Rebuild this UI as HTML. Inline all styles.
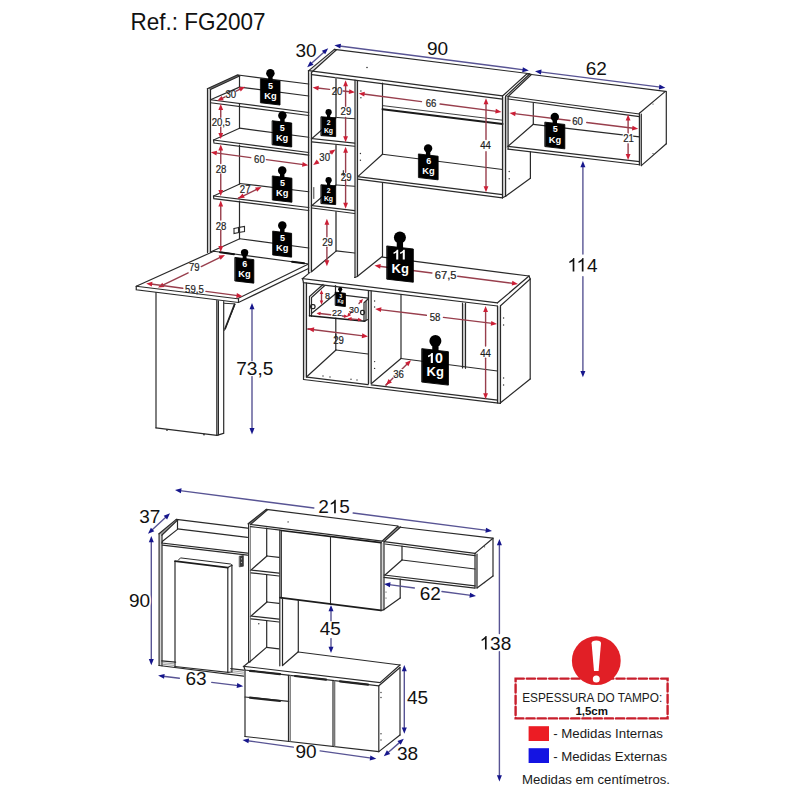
<!DOCTYPE html>
<html><head><meta charset="utf-8"><style>
html,body{margin:0;padding:0;background:#fff;}
svg{display:block;font-family:"Liberation Sans",sans-serif;}
</style></head><body>
<svg width="800" height="800" viewBox="0 0 800 800" stroke-linecap="round" stroke-linejoin="miter">
<rect width="800" height="800" fill="#fff"/>
<text x="130.5" y="30.3" font-size="23.6" fill="#111" textLength="135" lengthAdjust="spacingAndGlyphs">Ref.: FG2007</text>
<rect x="208.00" y="89.50" width="2.00" height="162.50" fill="#d6d6d6"/>
<rect x="309.00" y="72.50" width="2.00" height="199.00" fill="#d6d6d6"/>
<rect x="355.50" y="81.00" width="1.50" height="195.50" fill="#d6d6d6"/>
<rect x="503.00" y="97.00" width="2.10" height="100.00" fill="#d6d6d6"/>
<rect x="506.10" y="97.50" width="1.50" height="50.50" fill="#d6d6d6"/>
<rect x="639.90" y="114.50" width="0.90" height="50.50" fill="#d6d6d6"/>
<rect x="304.00" y="283.50" width="2.00" height="94.00" fill="#d6d6d6"/>
<rect x="368.90" y="291.00" width="1.80" height="92.50" fill="#d6d6d6"/>
<rect x="498.00" y="306.50" width="2.00" height="96.00" fill="#d6d6d6"/>
<rect x="463.00" y="304.00" width="2.00" height="64.00" fill="#d6d6d6"/>
<rect x="159.60" y="535.00" width="1.90" height="130.00" fill="#d6d6d6"/>
<rect x="381.50" y="543.00" width="2.00" height="66.50" fill="#d6d6d6"/>
<rect x="475.50" y="554.50" width="1.00" height="33.00" fill="#d6d6d6"/>
<rect x="217.30" y="301.00" width="0.60" height="134.00" fill="#d6d6d6"/>
<path d="M207.50 88.50 L207.50 252.50" stroke="#2a2a2a" stroke-width="1.20" fill="none"/>
<path d="M210.50 89.50 L210.50 252.00" stroke="#2a2a2a" stroke-width="1.20" fill="none"/>
<path d="M207.80 88.50 L237.50 75.00 L239.50 76.00 L210.50 89.50 Z" fill="#707070"/>
<path d="M207.80 88.50 L237.50 75.00 L239.50 76.00 L210.50 89.50" stroke="#2a2a2a" stroke-width="1.20" fill="none"/>
<path d="M238.00 75.00 L308.75 84.00" stroke="#2a2a2a" stroke-width="1.20" fill="none"/>
<path d="M239.50 76.00 L239.50 87.50" stroke="#2a2a2a" stroke-width="1.20" fill="none"/>
<path d="M239.50 103.50 L239.50 128.50" stroke="#2a2a2a" stroke-width="1.20" fill="none"/>
<path d="M239.50 145.00 L239.50 184.00" stroke="#2a2a2a" stroke-width="1.20" fill="none"/>
<path d="M239.50 201.00 L239.50 238.75" stroke="#2a2a2a" stroke-width="1.20" fill="none"/>
<path d="M210.50 99.75 L308.75 112.50" stroke="#2a2a2a" stroke-width="1.20" fill="none"/>
<path d="M210.50 102.75 L308.75 115.50" stroke="#2a2a2a" stroke-width="1.20" fill="none"/>
<path d="M210.50 99.75 L239.50 87.10" stroke="#2a2a2a" stroke-width="1.20" fill="none"/>
<path d="M239.50 87.10 L308.75 96.00" stroke="#2a2a2a" stroke-width="1.20" fill="none"/>
<path d="M239.50 128.20 L213.50 140.00 L214.00 143.00 L308.75 155.20" stroke="#2a2a2a" stroke-width="1.20" fill="none"/>
<path d="M213.50 140.00 L308.75 152.50" stroke="#2a2a2a" stroke-width="1.20" fill="none"/>
<path d="M239.50 128.20 L308.75 137.25" stroke="#2a2a2a" stroke-width="1.20" fill="none"/>
<path d="M239.75 184.00 L213.50 196.00 L213.80 198.60 L308.75 210.50" stroke="#2a2a2a" stroke-width="1.20" fill="none"/>
<path d="M213.50 196.00 L308.75 207.50" stroke="#2a2a2a" stroke-width="1.20" fill="none"/>
<path d="M239.75 183.50 L308.75 191.75" stroke="#2a2a2a" stroke-width="1.20" fill="none"/>
<path d="M210.50 252.00 L239.75 238.75" stroke="#2a2a2a" stroke-width="1.20" fill="none"/>
<path d="M239.75 238.75 L308.75 248.00" stroke="#2a2a2a" stroke-width="1.20" fill="none"/>
<path d="M234.00 228.50 L234.00 233.50 L238.50 232.50 L238.50 227.50 L244.50 226.50 L244.50 231.50 L238.50 232.50" stroke="#2a2a2a" stroke-width="1.10" fill="none"/>
<path d="M234.00 228.50 L240.00 227.20" stroke="#2a2a2a" stroke-width="1.10" fill="none"/>
<path d="M136.25 286.25 L213.75 251.25 L307.50 263.75" stroke="#2a2a2a" stroke-width="1.20" fill="none"/>
<path d="M136.25 286.25 L237.50 298.75 L307.50 264.50" stroke="#2a2a2a" stroke-width="1.20" fill="none"/>
<path d="M136.25 286.25 L136.25 289.80 L238.50 302.50 L308.50 268.50" stroke="#2a2a2a" stroke-width="1.20" fill="none"/>
<path d="M238.50 298.90 L238.50 302.50" stroke="#2a2a2a" stroke-width="1.20" fill="none"/>
<path d="M220.00 252.20 L234.00 254.20" stroke="#111" stroke-width="2.00" fill="none"/>
<path d="M292.00 261.70 L304.00 263.30" stroke="#111" stroke-width="2.00" fill="none"/>
<path d="M156.00 292.50 L156.00 427.80" stroke="#2a2a2a" stroke-width="1.20" fill="none"/>
<path d="M155.90 427.80 L216.90 435.30" stroke="#2a2a2a" stroke-width="1.20" fill="none"/>
<path d="M216.80 300.50 L216.80 435.30" stroke="#2a2a2a" stroke-width="1.20" fill="none"/>
<path d="M218.40 300.80 L218.40 435.00" stroke="#2a2a2a" stroke-width="1.20" fill="none"/>
<path d="M223.70 301.60 L223.70 433.40" stroke="#2a2a2a" stroke-width="1.20" fill="none"/>
<path d="M216.90 435.30 L223.40 433.40" stroke="#2a2a2a" stroke-width="1.20" fill="none"/>
<path d="M224.50 303.30 L235.20 303.90 L224.50 330.30" stroke="#2a2a2a" stroke-width="1.00" fill="none"/>
<path d="M234.50 304.50 L225.20 328.50" stroke="#222" stroke-width="1.80" fill="none"/>
<circle cx="167.00" cy="430.00" r="0.90" fill="#333"/>
<circle cx="204.00" cy="434.50" r="0.90" fill="#333"/>
<path d="M308.50 70.60 L308.50 272.50" stroke="#2a2a2a" stroke-width="1.20" fill="none"/>
<path d="M311.50 72.00 L311.50 271.50" stroke="#2a2a2a" stroke-width="1.20" fill="none"/>
<path d="M308.75 70.60 L334.40 49.40 L336.25 50.00 L311.90 72.00 Z" fill="#e4e4e4"/>
<path d="M308.75 70.60 L334.40 49.40 L336.25 50.00 L311.90 72.00" stroke="#2a2a2a" stroke-width="1.20" fill="none"/>
<path d="M334.40 49.40 L530.00 73.75" stroke="#2a2a2a" stroke-width="1.20" fill="none"/>
<path d="M308.75 70.60 L502.50 95.80" stroke="#2a2a2a" stroke-width="1.20" fill="none"/>
<path d="M311.90 74.60 L502.50 99.20" stroke="#2a2a2a" stroke-width="1.20" fill="none"/>
<path d="M336.00 77.80 L336.00 117.50" stroke="#707070" stroke-width="1.90" fill="none"/>
<path d="M336.00 145.50 L336.00 185.00" stroke="#707070" stroke-width="1.90" fill="none"/>
<path d="M336.00 212.00 L336.00 251.00" stroke="#707070" stroke-width="1.90" fill="none"/>
<path d="M355.00 80.20 L355.00 277.50" stroke="#2a2a2a" stroke-width="1.20" fill="none"/>
<path d="M357.50 80.60 L357.50 276.50" stroke="#2a2a2a" stroke-width="1.20" fill="none"/>
<path d="M354.60 277.50 L357.50 276.50" stroke="#2a2a2a" stroke-width="1.20" fill="none"/>
<path d="M336.00 117.50 L311.90 138.60 L354.60 143.10" stroke="#2a2a2a" stroke-width="1.20" fill="none"/>
<path d="M311.90 141.90 L354.60 146.25" stroke="#2a2a2a" stroke-width="1.20" fill="none"/>
<path d="M337.10 117.50 L354.60 118.75" stroke="#2a2a2a" stroke-width="1.20" fill="none"/>
<path d="M336.00 185.00 L311.90 205.60 L354.60 210.60" stroke="#2a2a2a" stroke-width="1.20" fill="none"/>
<path d="M311.90 208.00 L354.60 213.50" stroke="#2a2a2a" stroke-width="1.20" fill="none"/>
<path d="M337.00 185.00 L354.60 186.25" stroke="#2a2a2a" stroke-width="1.20" fill="none"/>
<path d="M311.50 271.80 L335.80 251.40" stroke="#2a2a2a" stroke-width="1.20" fill="none"/>
<path d="M336.25 250.80 L354.60 253.00" stroke="#2a2a2a" stroke-width="1.20" fill="none"/>
<path d="M313.80 187.50 L313.80 198.50" stroke="#2a2a2a" stroke-width="0.90" fill="none"/>
<circle cx="367.00" cy="67.50" r="0.80" fill="#333"/>
<circle cx="360.90" cy="91.00" r="0.70" fill="#333"/>
<circle cx="360.90" cy="97.80" r="0.70" fill="#333"/>
<circle cx="360.40" cy="153.50" r="0.70" fill="#333"/>
<circle cx="360.40" cy="160.30" r="0.70" fill="#333"/>
<path d="M382.50 83.20 L382.50 154.25" stroke="#2a2a2a" stroke-width="1.20" fill="none"/>
<path d="M382.50 182.75 L382.50 256.25" stroke="#2a2a2a" stroke-width="1.20" fill="none"/>
<path d="M382.50 256.25 L357.50 276.25" stroke="#2a2a2a" stroke-width="1.20" fill="none"/>
<path d="M382.50 105.60 L502.50 120.20" stroke="#2a2a2a" stroke-width="0.90" fill="none"/>
<path d="M382.50 109.20 L502.50 124.00" stroke="#1a1a1a" stroke-width="2.00" fill="none"/>
<path d="M358.10 176.40 L382.50 154.25" stroke="#2a2a2a" stroke-width="1.20" fill="none"/>
<path d="M382.50 154.25 L502.50 169.50" stroke="#2a2a2a" stroke-width="1.20" fill="none"/>
<path d="M357.50 176.60 L502.50 194.60" stroke="#2a2a2a" stroke-width="1.20" fill="none"/>
<path d="M357.50 179.20 L502.50 197.80" stroke="#2a2a2a" stroke-width="1.20" fill="none"/>
<path d="M502.50 96.00 L502.50 197.80" stroke="#2a2a2a" stroke-width="1.20" fill="none"/>
<path d="M505.60 96.30 L505.60 196.30" stroke="#2a2a2a" stroke-width="1.20" fill="none"/>
<path d="M502.50 197.80 L505.60 196.30" stroke="#2a2a2a" stroke-width="1.20" fill="none"/>
<path d="M502.50 96.00 L527.00 73.80" stroke="#2a2a2a" stroke-width="1.20" fill="none"/>
<path d="M505.60 96.30 L529.40 74.20" stroke="#2a2a2a" stroke-width="1.20" fill="none"/>
<path d="M508.10 96.50 L531.40 74.50" stroke="#2a2a2a" stroke-width="1.20" fill="none"/>
<path d="M527.00 73.80 L531.40 74.50" stroke="#2a2a2a" stroke-width="1.20" fill="none"/>
<path d="M530.40 151.80 L530.40 178.25" stroke="#2a2a2a" stroke-width="1.20" fill="none"/>
<path d="M530.40 178.25 L505.60 196.30" stroke="#2a2a2a" stroke-width="1.20" fill="none"/>
<circle cx="509.20" cy="171.50" r="0.70" fill="#333"/>
<circle cx="509.20" cy="178.70" r="0.70" fill="#333"/>
<path d="M531.40 74.50 L665.40 91.40" stroke="#2a2a2a" stroke-width="1.20" fill="none"/>
<path d="M508.10 96.50 L639.50 114.00" stroke="#2a2a2a" stroke-width="1.20" fill="none"/>
<path d="M508.10 99.00 L639.50 116.60" stroke="#2a2a2a" stroke-width="1.20" fill="none"/>
<path d="M639.40 113.20 L665.40 91.40" stroke="#2a2a2a" stroke-width="1.20" fill="none"/>
<path d="M639.40 113.20 L639.40 165.00" stroke="#2a2a2a" stroke-width="1.20" fill="none"/>
<path d="M641.30 114.00 L641.30 165.60" stroke="#2a2a2a" stroke-width="1.20" fill="none"/>
<path d="M666.30 91.40 L666.30 143.80" stroke="#2a2a2a" stroke-width="1.20" fill="none"/>
<path d="M641.30 165.60 L666.30 143.80" stroke="#2a2a2a" stroke-width="1.20" fill="none"/>
<path d="M508.10 96.50 L508.10 149.00" stroke="#2a2a2a" stroke-width="1.20" fill="none"/>
<path d="M533.30 103.00 L533.30 124.30" stroke="#2a2a2a" stroke-width="1.20" fill="none"/>
<path d="M508.00 146.30 L533.30 124.30" stroke="#2a2a2a" stroke-width="1.20" fill="none"/>
<path d="M533.30 124.30 L639.50 136.80" stroke="#2a2a2a" stroke-width="1.20" fill="none"/>
<path d="M508.00 146.30 L639.50 161.60" stroke="#2a2a2a" stroke-width="1.20" fill="none"/>
<path d="M508.00 149.20 L639.50 164.75" stroke="#2a2a2a" stroke-width="1.20" fill="none"/>
<circle cx="653.00" cy="104.00" r="0.60" fill="#333"/>
<circle cx="653.00" cy="153.50" r="0.60" fill="#333"/>
<path d="M310.00 272.40 L302.50 278.50 L497.50 302.80" stroke="#2a2a2a" stroke-width="1.20" fill="none"/>
<path d="M302.50 278.50 L303.50 282.60 L497.50 306.00" stroke="#2a2a2a" stroke-width="1.20" fill="none"/>
<path d="M382.50 257.20 L529.00 276.00" stroke="#2a2a2a" stroke-width="1.20" fill="none"/>
<path d="M529.00 276.00 L497.50 302.80" stroke="#2a2a2a" stroke-width="1.20" fill="none"/>
<path d="M530.20 279.00 L500.50 305.80" stroke="#2a2a2a" stroke-width="1.20" fill="none"/>
<path d="M529.00 276.00 L530.20 279.00" stroke="#2a2a2a" stroke-width="1.20" fill="none"/>
<path d="M303.50 282.60 L303.50 379.50" stroke="#2a2a2a" stroke-width="1.20" fill="none"/>
<path d="M306.50 283.00 L306.50 377.20" stroke="#2a2a2a" stroke-width="1.20" fill="none"/>
<path d="M368.40 290.50 L368.40 384.00" stroke="#2a2a2a" stroke-width="1.20" fill="none"/>
<path d="M371.20 291.00 L371.20 383.50" stroke="#2a2a2a" stroke-width="1.20" fill="none"/>
<path d="M497.50 306.20 L497.50 403.00" stroke="#2a2a2a" stroke-width="1.20" fill="none"/>
<path d="M500.50 305.80 L500.50 402.80" stroke="#2a2a2a" stroke-width="1.20" fill="none"/>
<path d="M530.20 279.00 L530.20 379.00" stroke="#2a2a2a" stroke-width="1.20" fill="none"/>
<path d="M530.20 379.00 L500.50 402.80" stroke="#2a2a2a" stroke-width="1.20" fill="none"/>
<path d="M307.00 377.20 L368.00 384.60" stroke="#2a2a2a" stroke-width="1.20" fill="none"/>
<path d="M371.20 384.80 L497.50 400.20" stroke="#2a2a2a" stroke-width="1.20" fill="none"/>
<path d="M303.50 379.50 L500.50 403.40" stroke="#2a2a2a" stroke-width="1.20" fill="none"/>
<path d="M335.80 318.00 L335.80 350.00" stroke="#2a2a2a" stroke-width="1.20" fill="none"/>
<path d="M335.50 285.50 L335.50 294.00" stroke="#2a2a2a" stroke-width="1.20" fill="none"/>
<path d="M307.00 376.50 L336.00 350.00" stroke="#2a2a2a" stroke-width="1.20" fill="none"/>
<path d="M336.00 350.00 L368.00 354.00" stroke="#2a2a2a" stroke-width="1.20" fill="none"/>
<path d="M401.00 294.80 L401.00 358.50" stroke="#2a2a2a" stroke-width="1.20" fill="none"/>
<path d="M371.50 383.50 L401.00 358.50" stroke="#2a2a2a" stroke-width="1.20" fill="none"/>
<path d="M401.00 358.50 L497.50 371.00" stroke="#2a2a2a" stroke-width="1.20" fill="none"/>
<path d="M462.50 303.00 L462.50 368.00" stroke="#2a2a2a" stroke-width="1.20" fill="none"/>
<path d="M465.50 303.40 L465.50 368.30" stroke="#2a2a2a" stroke-width="1.20" fill="none"/>
<path d="M309.50 315.80 L309.50 296.50 L323.00 284.50" stroke="#2a2a2a" stroke-width="1.20" fill="none"/>
<path d="M311.50 316.30 L311.50 297.50 L324.50 285.80" stroke="#2a2a2a" stroke-width="1.20" fill="none"/>
<path d="M311.50 313.50 L335.00 294.20" stroke="#2a2a2a" stroke-width="1.20" fill="none"/>
<path d="M345.50 295.30 L368.00 298.20" stroke="#2a2a2a" stroke-width="1.20" fill="none"/>
<path d="M309.50 315.80 L365.00 321.30" stroke="#1a1a1a" stroke-width="1.50" fill="none"/>
<path d="M364.00 321.00 L364.00 302.80 L368.00 299.00" stroke="#2a2a2a" stroke-width="1.20" fill="none"/>
<path d="M366.00 301.50 L366.00 320.50" stroke="#2a2a2a" stroke-width="1.20" fill="none"/>
<path d="M364.00 321.00 L368.00 319.50" stroke="#2a2a2a" stroke-width="1.20" fill="none"/>
<rect x="310.6" y="304.6" width="4.4" height="4.0" rx="1.6" fill="none" stroke="#222" stroke-width="1.3"/>
<rect x="360.6" y="310.4" width="3.8" height="4.2" rx="1.5" fill="none" stroke="#222" stroke-width="1.3"/>
<circle cx="323.00" cy="376.00" r="0.70" fill="#333"/>
<circle cx="330.00" cy="377.00" r="0.70" fill="#333"/>
<circle cx="351.00" cy="379.20" r="0.70" fill="#333"/>
<circle cx="357.00" cy="380.00" r="0.70" fill="#333"/>
<circle cx="374.60" cy="361.60" r="0.70" fill="#333"/>
<circle cx="374.60" cy="368.40" r="0.70" fill="#333"/>
<circle cx="503.60" cy="318.00" r="0.70" fill="#333"/>
<circle cx="503.60" cy="325.00" r="0.70" fill="#333"/>
<circle cx="503.60" cy="378.00" r="0.70" fill="#333"/>
<circle cx="503.60" cy="385.00" r="0.70" fill="#333"/>
<circle cx="374.60" cy="301.00" r="0.70" fill="#333"/>
<circle cx="374.60" cy="307.00" r="0.70" fill="#333"/>
<path d="M221.58 98.62 L225.06 96.85" stroke="#983e4c" stroke-width="1.40" fill="none"/>
<path d="M236.14 91.21 L240.72 88.88" stroke="#983e4c" stroke-width="1.40" fill="none"/>
<path d="M217.30 100.80 L221.56 95.94 L223.74 100.22 Z" fill="#cc1f36"/>
<path d="M245.00 86.70 L240.74 91.56 L238.56 87.28 Z" fill="#cc1f36"/>
<text x="230.80" y="97.60" font-size="10.56" fill="#1e1e1e" text-anchor="middle" font-weight="normal" textLength="10.68" lengthAdjust="spacingAndGlyphs" stroke="#1e1e1e" stroke-width="0.2">30</text>
<path d="M220.75 108.80 L220.75 117.30" stroke="#983e4c" stroke-width="1.40" fill="none"/>
<path d="M220.75 127.10 L220.75 134.20" stroke="#983e4c" stroke-width="1.40" fill="none"/>
<path d="M220.75 104.00 L223.15 110.00 L218.35 110.00 Z" fill="#cc1f36"/>
<path d="M220.75 139.00 L218.35 133.00 L223.15 133.00 Z" fill="#cc1f36"/>
<text x="221.00" y="126.20" font-size="10.56" fill="#1e1e1e" text-anchor="middle" font-weight="normal" textLength="18.68" lengthAdjust="spacingAndGlyphs" stroke="#1e1e1e" stroke-width="0.2">20,5</text>
<path d="M220.75 149.30 L220.75 163.56" stroke="#983e4c" stroke-width="1.40" fill="none"/>
<path d="M220.75 173.85 L220.75 191.20" stroke="#983e4c" stroke-width="1.40" fill="none"/>
<path d="M220.75 144.50 L223.15 150.50 L218.35 150.50 Z" fill="#cc1f36"/>
<path d="M220.75 196.00 L218.35 190.00 L223.15 190.00 Z" fill="#cc1f36"/>
<text x="221.00" y="172.50" font-size="10.56" fill="#1e1e1e" text-anchor="middle" font-weight="normal" textLength="10.68" lengthAdjust="spacingAndGlyphs" stroke="#1e1e1e" stroke-width="0.2">28</text>
<path d="M220.75 205.30 L220.75 220.07" stroke="#983e4c" stroke-width="1.40" fill="none"/>
<path d="M220.75 230.37 L220.75 247.20" stroke="#983e4c" stroke-width="1.40" fill="none"/>
<path d="M220.75 200.50 L223.15 206.50 L218.35 206.50 Z" fill="#cc1f36"/>
<path d="M220.75 252.00 L218.35 246.00 L223.15 246.00 Z" fill="#cc1f36"/>
<text x="221.00" y="229.50" font-size="10.56" fill="#1e1e1e" text-anchor="middle" font-weight="normal" textLength="10.68" lengthAdjust="spacingAndGlyphs" stroke="#1e1e1e" stroke-width="0.2">28</text>
<path d="M215.56 152.93 L250.78 157.59" stroke="#983e4c" stroke-width="1.40" fill="none"/>
<path d="M266.38 159.65 L303.54 164.57" stroke="#983e4c" stroke-width="1.40" fill="none"/>
<path d="M210.80 152.30 L217.06 150.71 L216.43 155.47 Z" fill="#cc1f36"/>
<path d="M308.30 165.20 L302.04 166.79 L302.67 162.03 Z" fill="#cc1f36"/>
<text x="259.40" y="162.80" font-size="10.56" fill="#1e1e1e" text-anchor="middle" font-weight="normal" textLength="10.68" lengthAdjust="spacingAndGlyphs" stroke="#1e1e1e" stroke-width="0.2">60</text>
<path d="M242.62 196.20 L238.30 198.30" stroke="#983e4c" stroke-width="1.40" fill="none"/>
<path d="M238.30 198.30 L257.18 189.10" stroke="#983e4c" stroke-width="1.40" fill="none"/>
<path d="M238.30 198.30 L242.64 193.51 L244.75 197.83 Z" fill="#cc1f36"/>
<path d="M261.50 187.00 L257.16 191.79 L255.05 187.47 Z" fill="#cc1f36"/>
<text x="245.20" y="193.00" font-size="10.56" fill="#1e1e1e" text-anchor="middle" font-weight="normal" textLength="10.68" lengthAdjust="spacingAndGlyphs" stroke="#1e1e1e" stroke-width="0.2">27</text>
<path d="M317.37 88.04 L329.56 89.42" stroke="#983e4c" stroke-width="1.40" fill="none"/>
<path d="M343.13 90.96 L350.23 91.76" stroke="#983e4c" stroke-width="1.40" fill="none"/>
<path d="M312.60 87.50 L318.83 85.79 L318.29 90.56 Z" fill="#cc1f36"/>
<path d="M355.00 92.30 L348.77 94.01 L349.31 89.24 Z" fill="#cc1f36"/>
<text x="337.00" y="94.80" font-size="10.56" fill="#1e1e1e" text-anchor="middle" font-weight="normal" textLength="10.68" lengthAdjust="spacingAndGlyphs" stroke="#1e1e1e" stroke-width="0.2">20</text>
<path d="M345.60 85.00 L345.60 106.28" stroke="#983e4c" stroke-width="1.40" fill="none"/>
<path d="M345.60 117.46 L345.60 137.50" stroke="#983e4c" stroke-width="1.40" fill="none"/>
<path d="M345.60 80.20 L348.00 86.20 L343.20 86.20 Z" fill="#cc1f36"/>
<path d="M345.60 142.30 L343.20 136.30 L348.00 136.30 Z" fill="#cc1f36"/>
<text x="345.90" y="114.60" font-size="10.56" fill="#1e1e1e" text-anchor="middle" font-weight="normal" textLength="10.68" lengthAdjust="spacingAndGlyphs" stroke="#1e1e1e" stroke-width="0.2">29</text>
<path d="M345.60 151.60 L345.60 172.22" stroke="#983e4c" stroke-width="1.40" fill="none"/>
<path d="M345.60 179.66 L345.60 204.00" stroke="#983e4c" stroke-width="1.40" fill="none"/>
<path d="M345.60 146.80 L348.00 152.80 L343.20 152.80 Z" fill="#cc1f36"/>
<path d="M345.60 208.80 L343.20 202.80 L348.00 202.80 Z" fill="#cc1f36"/>
<text x="346.20" y="181.30" font-size="10.56" fill="#1e1e1e" text-anchor="middle" font-weight="normal" textLength="10.68" lengthAdjust="spacingAndGlyphs" stroke="#1e1e1e" stroke-width="0.2">29</text>
<path d="M343.30 170.60 L343.30 175.40" stroke="#222" stroke-width="1.00" fill="none"/>
<path d="M341.80 174.20 L344.60 174.20" stroke="#222" stroke-width="0.80" fill="none"/>
<path d="M317.13 162.25 L317.66 161.88" stroke="#983e4c" stroke-width="1.40" fill="none"/>
<path d="M329.93 153.30 L331.57 152.15" stroke="#983e4c" stroke-width="1.40" fill="none"/>
<path d="M313.20 165.00 L316.74 159.59 L319.49 163.53 Z" fill="#cc1f36"/>
<path d="M335.50 149.40 L331.96 154.81 L329.21 150.87 Z" fill="#cc1f36"/>
<text x="324.70" y="161.30" font-size="10.56" fill="#1e1e1e" text-anchor="middle" font-weight="normal" textLength="10.68" lengthAdjust="spacingAndGlyphs" stroke="#1e1e1e" stroke-width="0.2">30</text>
<path d="M326.90 223.60 L326.90 236.85" stroke="#983e4c" stroke-width="1.40" fill="none"/>
<path d="M326.90 247.30 L326.90 261.50" stroke="#983e4c" stroke-width="1.40" fill="none"/>
<path d="M326.90 218.80 L329.30 224.80 L324.50 224.80 Z" fill="#cc1f36"/>
<path d="M326.90 266.30 L324.50 260.30 L329.30 260.30 Z" fill="#cc1f36"/>
<text x="327.50" y="246.30" font-size="10.56" fill="#1e1e1e" text-anchor="middle" font-weight="normal" textLength="10.68" lengthAdjust="spacingAndGlyphs" stroke="#1e1e1e" stroke-width="0.2">29</text>
<path d="M363.36 94.02 L421.48 101.58" stroke="#983e4c" stroke-width="1.40" fill="none"/>
<path d="M440.05 104.00 L496.74 111.38" stroke="#983e4c" stroke-width="1.40" fill="none"/>
<path d="M358.60 93.40 L364.86 91.79 L364.24 96.55 Z" fill="#cc1f36"/>
<path d="M501.50 112.00 L495.24 113.61 L495.86 108.85 Z" fill="#cc1f36"/>
<text x="431.00" y="107.00" font-size="10.56" fill="#1e1e1e" text-anchor="middle" font-weight="normal" textLength="10.68" lengthAdjust="spacingAndGlyphs" stroke="#1e1e1e" stroke-width="0.2">66</text>
<path d="M486.00 103.00 L486.00 139.56" stroke="#983e4c" stroke-width="1.40" fill="none"/>
<path d="M486.00 151.78 L486.00 187.40" stroke="#983e4c" stroke-width="1.40" fill="none"/>
<path d="M486.00 98.20 L488.40 104.20 L483.60 104.20 Z" fill="#cc1f36"/>
<path d="M486.00 192.20 L483.60 186.20 L488.40 186.20 Z" fill="#cc1f36"/>
<text x="485.60" y="149.00" font-size="10.56" fill="#1e1e1e" text-anchor="middle" font-weight="normal" textLength="10.68" lengthAdjust="spacingAndGlyphs" stroke="#1e1e1e" stroke-width="0.2">44</text>
<path d="M514.26 113.68 L569.99 120.48" stroke="#983e4c" stroke-width="1.40" fill="none"/>
<path d="M586.72 122.52 L633.44 128.22" stroke="#983e4c" stroke-width="1.40" fill="none"/>
<path d="M509.50 113.10 L515.75 111.44 L515.17 116.21 Z" fill="#cc1f36"/>
<path d="M638.20 128.80 L631.95 130.46 L632.53 125.69 Z" fill="#cc1f36"/>
<text x="577.50" y="125.40" font-size="10.56" fill="#1e1e1e" text-anchor="middle" font-weight="normal" textLength="10.68" lengthAdjust="spacingAndGlyphs" stroke="#1e1e1e" stroke-width="0.2">60</text>
<path d="M628.10 119.20 L628.10 133.10" stroke="#983e4c" stroke-width="1.40" fill="none"/>
<path d="M628.10 142.22 L628.10 155.20" stroke="#983e4c" stroke-width="1.40" fill="none"/>
<path d="M628.10 114.40 L630.50 120.40 L625.70 120.40 Z" fill="#cc1f36"/>
<path d="M628.10 160.00 L625.70 154.00 L630.50 154.00 Z" fill="#cc1f36"/>
<text x="628.50" y="142.30" font-size="10.56" fill="#fff" stroke="#fff" stroke-width="2.5" stroke-linejoin="round" text-anchor="middle" font-weight="normal" textLength="10.68" lengthAdjust="spacingAndGlyphs">21</text>
<text x="628.50" y="142.30" font-size="10.56" fill="#1e1e1e" text-anchor="middle" font-weight="normal" textLength="10.68" lengthAdjust="spacingAndGlyphs" stroke="#1e1e1e" stroke-width="0.2">21</text>
<path d="M162.32 285.41 L188.15 272.88" stroke="#983e4c" stroke-width="1.40" fill="none"/>
<path d="M201.22 266.54 L220.68 257.09" stroke="#983e4c" stroke-width="1.40" fill="none"/>
<path d="M158.00 287.50 L162.35 282.72 L164.45 287.04 Z" fill="#cc1f36"/>
<path d="M225.00 255.00 L220.65 259.78 L218.55 255.46 Z" fill="#cc1f36"/>
<text x="194.30" y="271.30" font-size="10.56" fill="#1e1e1e" text-anchor="middle" font-weight="normal" textLength="10.68" lengthAdjust="spacingAndGlyphs" stroke="#1e1e1e" stroke-width="0.2">79</text>
<path d="M150.96 284.04 L182.79 288.30" stroke="#983e4c" stroke-width="1.40" fill="none"/>
<path d="M205.91 291.40 L237.74 295.66" stroke="#983e4c" stroke-width="1.40" fill="none"/>
<path d="M146.20 283.40 L152.47 281.82 L151.83 286.58 Z" fill="#cc1f36"/>
<path d="M242.50 296.30 L236.23 297.88 L236.87 293.12 Z" fill="#cc1f36"/>
<text x="194.40" y="292.60" font-size="10.56" fill="#1e1e1e" text-anchor="middle" font-weight="normal" textLength="18.68" lengthAdjust="spacingAndGlyphs" stroke="#1e1e1e" stroke-width="0.2">59,5</text>
<path d="M379.26 266.21 L431.90 272.96" stroke="#983e4c" stroke-width="1.40" fill="none"/>
<path d="M457.73 276.27 L513.24 283.39" stroke="#983e4c" stroke-width="1.40" fill="none"/>
<path d="M374.50 265.60 L380.76 263.98 L380.15 268.74 Z" fill="#cc1f36"/>
<path d="M518.00 284.00 L511.74 285.62 L512.35 280.86 Z" fill="#cc1f36"/>
<text x="445.70" y="278.80" font-size="10.56" fill="#1e1e1e" text-anchor="middle" font-weight="normal" textLength="21.80" lengthAdjust="spacingAndGlyphs" stroke="#1e1e1e" stroke-width="0.2">67,5</text>
<path d="M379.96 309.59 L426.36 315.30" stroke="#983e4c" stroke-width="1.40" fill="none"/>
<path d="M443.41 317.40 L492.24 323.41" stroke="#983e4c" stroke-width="1.40" fill="none"/>
<path d="M375.20 309.00 L381.45 307.35 L380.86 312.12 Z" fill="#cc1f36"/>
<path d="M497.00 324.00 L490.75 325.65 L491.34 320.88 Z" fill="#cc1f36"/>
<text x="435.00" y="321.00" font-size="10.56" fill="#1e1e1e" text-anchor="middle" font-weight="normal" textLength="10.68" lengthAdjust="spacingAndGlyphs" stroke="#1e1e1e" stroke-width="0.2">58</text>
<path d="M485.60 310.70 L485.60 346.06" stroke="#983e4c" stroke-width="1.40" fill="none"/>
<path d="M485.60 358.20 L485.60 394.50" stroke="#983e4c" stroke-width="1.40" fill="none"/>
<path d="M485.60 305.90 L488.00 311.90 L483.20 311.90 Z" fill="#cc1f36"/>
<path d="M485.60 399.30 L483.20 393.30 L488.00 393.30 Z" fill="#cc1f36"/>
<text x="485.60" y="357.00" font-size="10.56" fill="#1e1e1e" text-anchor="middle" font-weight="normal" textLength="10.68" lengthAdjust="spacingAndGlyphs" stroke="#1e1e1e" stroke-width="0.2">44</text>
<path d="M389.41 381.62 L386.00 385.00" stroke="#983e4c" stroke-width="1.40" fill="none"/>
<path d="M386.00 385.00 L407.59 363.58" stroke="#983e4c" stroke-width="1.40" fill="none"/>
<path d="M386.00 385.00 L388.57 379.07 L391.95 382.48 Z" fill="#cc1f36"/>
<path d="M411.00 360.20 L408.43 366.13 L405.05 362.72 Z" fill="#cc1f36"/>
<text x="398.50" y="378.00" font-size="10.56" fill="#fff" stroke="#fff" stroke-width="2.0" stroke-linejoin="round" text-anchor="middle" font-weight="normal" textLength="10.68" lengthAdjust="spacingAndGlyphs">36</text>
<text x="398.50" y="378.00" font-size="10.56" fill="#1e1e1e" text-anchor="middle" font-weight="normal" textLength="10.68" lengthAdjust="spacingAndGlyphs" stroke="#1e1e1e" stroke-width="0.2">36</text>
<path d="M312.76 329.60 L308.00 329.00" stroke="#983e4c" stroke-width="1.40" fill="none"/>
<path d="M308.00 329.00 L363.24 335.90" stroke="#983e4c" stroke-width="1.40" fill="none"/>
<path d="M308.00 329.00 L314.25 327.36 L313.66 332.13 Z" fill="#cc1f36"/>
<path d="M368.00 336.50 L361.75 338.14 L362.34 333.37 Z" fill="#cc1f36"/>
<text x="338.50" y="344.00" font-size="10.56" fill="#1e1e1e" text-anchor="middle" font-weight="normal" textLength="10.68" lengthAdjust="spacingAndGlyphs" stroke="#1e1e1e" stroke-width="0.2">29</text>
<path d="M335.80 334.00 L335.80 338.50" stroke="#2a2a2a" stroke-width="1.20" fill="none"/>
<path d="M321.50 293.20 L321.50 301.30" stroke="#983e4c" stroke-width="1.40" fill="none"/>
<path d="M321.50 290.00 L323.30 294.00 L319.70 294.00 Z" fill="#cc1f36"/>
<path d="M321.50 304.50 L319.70 300.50 L323.30 300.50 Z" fill="#cc1f36"/>
<text x="327.50" y="299.00" font-size="9.90" fill="#1e1e1e" text-anchor="middle" font-weight="normal" textLength="5.00" lengthAdjust="spacingAndGlyphs" stroke="#1e1e1e" stroke-width="0.2">8</text>
<path d="M319.68 313.54 L330.68 314.73" stroke="#983e4c" stroke-width="1.40" fill="none"/>
<path d="M342.33 315.99 L344.82 316.26" stroke="#983e4c" stroke-width="1.40" fill="none"/>
<path d="M316.50 313.20 L320.67 311.84 L320.28 315.42 Z" fill="#cc1f36"/>
<path d="M348.00 316.60 L343.83 317.96 L344.22 314.38 Z" fill="#cc1f36"/>
<text x="337.00" y="316.20" font-size="9.90" fill="#1e1e1e" text-anchor="middle" font-weight="normal" textLength="10.01" lengthAdjust="spacingAndGlyphs" stroke="#1e1e1e" stroke-width="0.2">22</text>
<path d="M349.13 314.61 L351.80 311.60" stroke="#983e4c" stroke-width="1.40" fill="none"/>
<path d="M359.00 303.50 L360.87 301.39" stroke="#983e4c" stroke-width="1.40" fill="none"/>
<path d="M347.00 317.00 L348.31 312.81 L351.00 315.21 Z" fill="#cc1f36"/>
<path d="M363.00 299.00 L361.69 303.19 L359.00 300.79 Z" fill="#cc1f36"/>
<path d="M350.68 318.83 L358.82 319.67" stroke="#983e4c" stroke-width="1.40" fill="none"/>
<path d="M347.50 318.50 L351.66 317.12 L351.29 320.70 Z" fill="#cc1f36"/>
<path d="M362.00 320.00 L357.84 321.38 L358.21 317.80 Z" fill="#cc1f36"/>
<text x="354.00" y="312.50" font-size="9.90" fill="#1e1e1e" text-anchor="middle" font-weight="normal" textLength="10.01" lengthAdjust="spacingAndGlyphs" stroke="#1e1e1e" stroke-width="0.2">30</text>
<path d="M310.95 63.83 L324.45 51.67" stroke="#585494" stroke-width="1.40" fill="none"/>
<path d="M307.20 67.20 L310.21 61.13 L313.56 64.84 Z" fill="#16168c"/>
<path d="M328.20 48.30 L325.19 54.37 L321.84 50.66 Z" fill="#16168c"/>
<text x="306.00" y="56.60" font-size="19.00" fill="#111" text-anchor="middle" font-weight="normal">30</text>
<path d="M339.40 45.95 L523.80 69.85" stroke="#585494" stroke-width="1.40" fill="none"/>
<path d="M334.40 45.30 L340.97 43.63 L340.33 48.59 Z" fill="#16168c"/>
<path d="M528.80 70.50 L522.23 72.17 L522.87 67.21 Z" fill="#16168c"/>
<text x="437.50" y="54.60" font-size="19.00" fill="#fff" stroke="#fff" stroke-width="3.0" stroke-linejoin="round" text-anchor="middle" font-weight="normal">90</text>
<text x="437.50" y="54.60" font-size="19.00" fill="#111" text-anchor="middle" font-weight="normal">90</text>
<path d="M540.00 71.93 L660.40 87.17" stroke="#585494" stroke-width="1.40" fill="none"/>
<path d="M535.00 71.30 L541.56 69.61 L540.94 74.57 Z" fill="#16168c"/>
<path d="M665.40 87.80 L658.84 89.49 L659.46 84.53 Z" fill="#16168c"/>
<text x="596.30" y="75.30" font-size="19.00" fill="#fff" stroke="#fff" stroke-width="3.0" stroke-linejoin="round" text-anchor="middle" font-weight="normal">62</text>
<text x="596.30" y="75.30" font-size="19.00" fill="#111" text-anchor="middle" font-weight="normal">62</text>
<path d="M582.90 166.04 L582.90 254.01" stroke="#585494" stroke-width="1.40" fill="none"/>
<path d="M582.90 276.72 L582.90 372.26" stroke="#585494" stroke-width="1.40" fill="none"/>
<path d="M582.90 161.00 L585.40 167.30 L580.40 167.30 Z" fill="#16168c"/>
<path d="M582.90 377.30 L580.40 371.00 L585.40 371.00 Z" fill="#16168c"/>
<path d="M574.34 271.60 L574.34 258.00 L573.30 258.00 L572.80 258.91 L572.01 259.73 L570.87 260.62 L569.31 261.53 L569.31 263.11 L570.49 262.59 L571.59 261.95 L572.67 261.19 L572.67 271.60 Z" fill="#111"/>
<path d="M583.50 271.60 L583.50 258.00 L582.46 258.00 L581.96 258.91 L581.16 259.73 L580.02 260.62 L578.47 261.53 L578.47 263.11 L579.64 262.59 L580.75 261.95 L581.83 261.19 L581.83 271.60 Z" fill="#111"/>
<text x="586.98" y="271.60" font-size="19.00" fill="#111">4</text>
<path d="M252.00 308.04 L252.00 360.82" stroke="#585494" stroke-width="1.40" fill="none"/>
<path d="M252.00 376.58 L252.00 429.36" stroke="#585494" stroke-width="1.40" fill="none"/>
<path d="M252.00 303.00 L254.50 309.30 L249.50 309.30 Z" fill="#16168c"/>
<path d="M252.00 434.40 L249.50 428.10 L254.50 428.10 Z" fill="#16168c"/>
<text x="254.80" y="374.50" font-size="19.00" fill="#111" text-anchor="middle" font-weight="normal">73,5</text>
<rect x="268.17" y="73.20" width="4.46" height="7.70" fill="#000"/>
<circle cx="270.40" cy="73.20" r="4.25" fill="#000"/>
<path d="M260.80 78.80 L280.00 81.01 L280.00 105.01 L260.80 102.80 Z" fill="#000" stroke="#000" stroke-width="0.9" stroke-linejoin="round"/>
<text x="270.60" y="88.88" font-size="9.70" fill="#fff" text-anchor="middle" font-weight="bold" textLength="5.00" lengthAdjust="spacingAndGlyphs">5</text>
<text x="270.40" y="98.84" font-size="9.90" fill="#fff" text-anchor="middle" font-weight="bold" textLength="12.40" lengthAdjust="spacingAndGlyphs">Kg</text>
<rect x="280.17" y="115.50" width="4.46" height="7.44" fill="#000"/>
<circle cx="282.40" cy="115.50" r="4.25" fill="#000"/>
<path d="M272.50 120.80 L291.70 123.01 L291.70 147.01 L272.50 144.80 Z" fill="#000" stroke="#000" stroke-width="0.9" stroke-linejoin="round"/>
<text x="282.30" y="130.88" font-size="9.70" fill="#fff" text-anchor="middle" font-weight="bold" textLength="5.00" lengthAdjust="spacingAndGlyphs">5</text>
<text x="282.10" y="140.84" font-size="9.90" fill="#fff" text-anchor="middle" font-weight="bold" textLength="12.40" lengthAdjust="spacingAndGlyphs">Kg</text>
<rect x="279.97" y="170.40" width="4.46" height="7.69" fill="#000"/>
<circle cx="282.20" cy="170.40" r="4.25" fill="#000"/>
<path d="M272.70 176.00 L291.90 178.21 L291.90 202.21 L272.70 200.00 Z" fill="#000" stroke="#000" stroke-width="0.9" stroke-linejoin="round"/>
<text x="282.50" y="186.08" font-size="9.70" fill="#fff" text-anchor="middle" font-weight="bold" textLength="5.00" lengthAdjust="spacingAndGlyphs">5</text>
<text x="282.30" y="196.04" font-size="9.90" fill="#fff" text-anchor="middle" font-weight="bold" textLength="12.40" lengthAdjust="spacingAndGlyphs">Kg</text>
<rect x="280.07" y="225.40" width="4.46" height="7.87" fill="#000"/>
<circle cx="282.30" cy="225.40" r="4.25" fill="#000"/>
<path d="M273.00 231.20 L291.60 233.34 L291.60 257.14 L273.00 255.00 Z" fill="#000" stroke="#000" stroke-width="0.9" stroke-linejoin="round"/>
<text x="282.50" y="241.20" font-size="9.70" fill="#fff" text-anchor="middle" font-weight="bold" textLength="5.00" lengthAdjust="spacingAndGlyphs">5</text>
<text x="282.30" y="251.07" font-size="9.90" fill="#fff" text-anchor="middle" font-weight="bold" textLength="12.40" lengthAdjust="spacingAndGlyphs">Kg</text>
<rect x="242.66" y="252.60" width="3.89" height="6.98" fill="#000"/>
<circle cx="244.60" cy="252.60" r="3.70" fill="#000"/>
<path d="M235.20 257.50 L253.80 259.64 L253.80 283.14 L235.20 281.00 Z" fill="#000" stroke="#000" stroke-width="0.9" stroke-linejoin="round"/>
<text x="244.70" y="267.37" font-size="9.70" fill="#fff" text-anchor="middle" font-weight="bold" textLength="5.00" lengthAdjust="spacingAndGlyphs">6</text>
<text x="244.50" y="277.12" font-size="9.90" fill="#fff" text-anchor="middle" font-weight="bold" textLength="12.40" lengthAdjust="spacingAndGlyphs">Kg</text>
<rect x="326.97" y="112.20" width="3.26" height="6.11" fill="#000"/>
<circle cx="328.60" cy="112.20" r="3.10" fill="#000"/>
<path d="M321.30 116.80 L335.70 117.81 L335.70 136.61 L321.30 135.60 Z" fill="#000" stroke="#000" stroke-width="0.9" stroke-linejoin="round"/>
<text x="328.70" y="124.70" font-size="7.40" fill="#fff" text-anchor="middle" font-weight="bold" textLength="3.80" lengthAdjust="spacingAndGlyphs">2</text>
<text x="328.50" y="132.50" font-size="7.00" fill="#fff" text-anchor="middle" font-weight="bold" textLength="9.20" lengthAdjust="spacingAndGlyphs">Kg</text>
<rect x="326.97" y="180.20" width="3.26" height="6.11" fill="#000"/>
<circle cx="328.60" cy="180.20" r="3.10" fill="#000"/>
<path d="M321.30 184.80 L335.70 185.81 L335.70 204.61 L321.30 203.60 Z" fill="#000" stroke="#000" stroke-width="0.9" stroke-linejoin="round"/>
<text x="328.70" y="192.70" font-size="7.40" fill="#fff" text-anchor="middle" font-weight="bold" textLength="3.80" lengthAdjust="spacingAndGlyphs">2</text>
<text x="328.50" y="200.50" font-size="7.00" fill="#fff" text-anchor="middle" font-weight="bold" textLength="9.20" lengthAdjust="spacingAndGlyphs">Kg</text>
<rect x="425.90" y="148.40" width="4.41" height="7.67" fill="#000"/>
<circle cx="428.10" cy="148.40" r="4.20" fill="#000"/>
<path d="M418.80 154.00 L438.10 156.22 L438.10 179.82 L418.80 177.60 Z" fill="#000" stroke="#000" stroke-width="0.9" stroke-linejoin="round"/>
<text x="428.65" y="163.91" font-size="9.70" fill="#fff" text-anchor="middle" font-weight="bold" textLength="5.00" lengthAdjust="spacingAndGlyphs">6</text>
<text x="428.45" y="173.71" font-size="9.90" fill="#fff" text-anchor="middle" font-weight="bold" textLength="12.40" lengthAdjust="spacingAndGlyphs">Kg</text>
<rect x="552.59" y="117.00" width="4.41" height="7.30" fill="#000"/>
<circle cx="554.80" cy="117.00" r="4.20" fill="#000"/>
<path d="M545.20 122.20 L564.80 124.45 L564.80 148.85 L545.20 146.60 Z" fill="#000" stroke="#000" stroke-width="0.9" stroke-linejoin="round"/>
<text x="555.20" y="132.45" font-size="9.70" fill="#fff" text-anchor="middle" font-weight="bold" textLength="5.00" lengthAdjust="spacingAndGlyphs">5</text>
<text x="555.00" y="142.57" font-size="9.90" fill="#fff" text-anchor="middle" font-weight="bold" textLength="12.40" lengthAdjust="spacingAndGlyphs">Kg</text>
<rect x="396.75" y="237.40" width="6.30" height="11.07" fill="#000"/>
<circle cx="399.90" cy="237.40" r="6.00" fill="#000"/>
<path d="M387.10 246.00 L413.30 249.01 L413.30 282.21 L387.10 279.20 Z" fill="#000" stroke="#000" stroke-width="0.9" stroke-linejoin="round"/>
<path d="M398.25 259.61 L398.25 249.87 L396.82 249.87 L396.44 250.58 L395.67 251.32 L394.65 251.91 L393.58 252.27 L393.58 253.93 L394.78 253.46 L395.60 252.98 L396.21 252.47 L396.21 259.61 Z" fill="#fff"/>
<path d="M404.80 259.61 L404.80 249.87 L403.38 249.87 L403.00 250.58 L402.22 251.32 L401.20 251.91 L400.14 252.27 L400.14 253.93 L401.34 253.46 L402.15 252.98 L402.76 252.47 L402.76 259.61 Z" fill="#fff"/>
<text x="400.20" y="273.06" font-size="12.60" fill="#fff" text-anchor="middle" font-weight="bold" textLength="17.40" lengthAdjust="spacingAndGlyphs">Kg</text>
<rect x="432.25" y="340.90" width="6.30" height="10.33" fill="#000"/>
<circle cx="435.40" cy="340.90" r="6.00" fill="#000"/>
<path d="M422.10 348.70 L448.40 351.72 L448.40 385.12 L422.10 382.10 Z" fill="#000" stroke="#000" stroke-width="0.9" stroke-linejoin="round"/>
<path d="M432.91 363.06 L432.91 352.89 L431.41 352.89 L431.02 353.63 L430.21 354.40 L429.14 355.02 L428.04 355.39 L428.04 357.13 L429.28 356.64 L430.14 356.13 L430.78 355.61 L430.78 363.06 Z" fill="#fff"/>
<text x="435.05" y="363.06" font-size="14.20" fill="#fff" font-weight="bold">0</text>
<text x="435.25" y="376.09" font-size="12.60" fill="#fff" text-anchor="middle" font-weight="bold" textLength="17.40" lengthAdjust="spacingAndGlyphs">Kg</text>
<rect x="339.10" y="289.20" width="2.21" height="4.53" fill="#000"/>
<circle cx="340.20" cy="289.20" r="2.10" fill="#000"/>
<path d="M335.60 292.20 L345.40 293.33 L345.40 306.53 L335.60 305.40 Z" fill="#000" stroke="#000" stroke-width="0.9" stroke-linejoin="round"/>
<text x="340.70" y="297.74" font-size="5.00" fill="#fff" text-anchor="middle" font-weight="bold" textLength="2.60" lengthAdjust="spacingAndGlyphs">3</text>
<text x="340.50" y="303.22" font-size="4.60" fill="#fff" text-anchor="middle" font-weight="bold" textLength="6.00" lengthAdjust="spacingAndGlyphs">Kg</text>
<path d="M159.10 533.80 L159.10 665.50" stroke="#2a2a2a" stroke-width="1.20" fill="none"/>
<path d="M162.00 535.00 L162.00 665.80" stroke="#2a2a2a" stroke-width="1.20" fill="none"/>
<path d="M159.00 533.80 L176.25 519.40 L177.50 520.20 L161.75 535.20 Z" fill="#a0a0a0"/>
<path d="M159.00 533.80 L176.25 519.40 L177.50 520.20 L161.75 535.20" stroke="#2a2a2a" stroke-width="1.20" fill="none"/>
<path d="M176.25 519.40 L247.50 528.10" stroke="#2a2a2a" stroke-width="1.20" fill="none"/>
<path d="M177.50 520.20 L177.50 528.80" stroke="#2a2a2a" stroke-width="1.20" fill="none"/>
<path d="M177.50 528.80 L247.50 537.30" stroke="#2a2a2a" stroke-width="1.20" fill="none"/>
<path d="M162.50 541.30 L177.50 529.40" stroke="#2a2a2a" stroke-width="1.20" fill="none"/>
<path d="M162.50 541.30 L161.90 543.10 L247.50 553.10" stroke="#2a2a2a" stroke-width="1.20" fill="none"/>
<path d="M162.50 545.20 L247.50 555.20" stroke="#2a2a2a" stroke-width="1.20" fill="none"/>
<path d="M175.00 666.80 L175.00 561.30" stroke="#2a2a2a" stroke-width="1.20" fill="none"/>
<path d="M227.80 567.60 L227.80 672.30 L175.00 666.50" stroke="#2a2a2a" stroke-width="1.20" fill="none"/>
<path d="M175.00 561.20 L227.80 567.60" stroke="#1c1c1c" stroke-width="1.70" fill="none"/>
<path d="M231.90 565.20 L231.90 672.00" stroke="#2a2a2a" stroke-width="1.20" fill="none"/>
<path d="M227.80 672.30 L231.90 672.00" stroke="#2a2a2a" stroke-width="1.20" fill="none"/>
<path d="M178.30 560.20 L180.50 557.90 L230.60 564.00 L231.90 565.20" stroke="#2a2a2a" stroke-width="1.00" fill="none"/>
<path d="M227.80 567.60 L231.90 565.20" stroke="#2a2a2a" stroke-width="1.20" fill="none"/>
<path d="M161.75 660.80 L175.60 662.20" stroke="#2a2a2a" stroke-width="1.20" fill="none"/>
<path d="M230.80 668.60 L243.60 670.20" stroke="#2a2a2a" stroke-width="1.20" fill="none"/>
<path d="M159.00 665.50 L243.60 676.20" stroke="#2a2a2a" stroke-width="1.20" fill="none"/>
<path d="M161.75 662.60 L175.60 664.00" stroke="#777" stroke-width="0.70" fill="none"/>
<path d="M161.75 664.20 L175.60 665.60" stroke="#777" stroke-width="0.70" fill="none"/>
<path d="M230.80 670.60 L243.60 672.20" stroke="#777" stroke-width="0.70" fill="none"/>
<path d="M230.80 672.40 L243.60 674.00" stroke="#777" stroke-width="0.70" fill="none"/>
<path d="M239.6 556.2 L243.4 555.6 L243.4 566.2 L239.6 566.8 Z" fill="#3a3a3a" stroke="#222" stroke-width="0.6"/>
<circle cx="241.50" cy="558.80" r="0.60" fill="#ccc"/>
<circle cx="241.50" cy="562.30" r="0.60" fill="#ccc"/>
<path d="M248.60 523.80 L248.60 662.50" stroke="#2a2a2a" stroke-width="1.20" fill="none"/>
<path d="M250.40 526.20 L250.40 662.00" stroke="#8a8a8a" stroke-width="1.20" fill="none"/>
<path d="M248.10 523.80 L266.20 509.40 L267.40 510.00 L250.40 524.60 Z" fill="#707070"/>
<path d="M248.10 523.80 L266.20 509.40 L267.40 510.00 L250.40 524.60" stroke="#2a2a2a" stroke-width="1.20" fill="none"/>
<path d="M266.20 509.40 L398.00 526.00" stroke="#2a2a2a" stroke-width="1.20" fill="none"/>
<path d="M250.60 524.50 L382.00 541.20" stroke="#2a2a2a" stroke-width="1.20" fill="none"/>
<path d="M250.60 526.60 L280.50 530.20" stroke="#2a2a2a" stroke-width="1.20" fill="none"/>
<path d="M266.70 528.20 L266.70 556.00" stroke="#2a2a2a" stroke-width="1.20" fill="none"/>
<path d="M266.70 575.00 L266.70 602.00" stroke="#2a2a2a" stroke-width="1.20" fill="none"/>
<path d="M266.70 621.00 L266.70 647.40" stroke="#2a2a2a" stroke-width="1.20" fill="none"/>
<path d="M279.80 530.00 L279.80 665.80" stroke="#2a2a2a" stroke-width="1.20" fill="none"/>
<path d="M281.30 530.30 L281.30 598.00" stroke="#2a2a2a" stroke-width="1.20" fill="none"/>
<path d="M267.00 556.00 L251.00 570.00 L279.00 573.20" stroke="#2a2a2a" stroke-width="1.20" fill="none"/>
<path d="M251.00 572.80 L279.00 576.00" stroke="#2a2a2a" stroke-width="1.20" fill="none"/>
<path d="M267.00 556.00 L279.00 557.40" stroke="#2a2a2a" stroke-width="1.20" fill="none"/>
<path d="M267.00 602.00 L251.00 616.00 L279.00 619.20" stroke="#2a2a2a" stroke-width="1.20" fill="none"/>
<path d="M251.00 618.80 L279.00 622.00" stroke="#2a2a2a" stroke-width="1.20" fill="none"/>
<path d="M267.00 602.00 L279.00 603.40" stroke="#2a2a2a" stroke-width="1.20" fill="none"/>
<path d="M249.50 662.00 L266.50 647.40" stroke="#2a2a2a" stroke-width="1.20" fill="none"/>
<path d="M266.50 647.40 L279.00 648.80" stroke="#2a2a2a" stroke-width="1.20" fill="none"/>
<circle cx="288.10" cy="521.90" r="0.70" fill="#333"/>
<circle cx="258.80" cy="623.80" r="0.70" fill="#333"/>
<path d="M281.30 530.50 L381.00 542.60" stroke="#1a1a1a" stroke-width="1.60" fill="none"/>
<path d="M330.50 536.50 L330.50 604.50" stroke="#2a2a2a" stroke-width="1.10" fill="none"/>
<path d="M280.00 597.60 L381.00 610.40" stroke="#1c1c1c" stroke-width="1.60" fill="none"/>
<path d="M381.00 542.60 L381.00 610.60" stroke="#2a2a2a" stroke-width="1.20" fill="none"/>
<path d="M384.00 541.60 L384.00 609.60" stroke="#2a2a2a" stroke-width="1.20" fill="none"/>
<path d="M381.00 610.60 L384.00 609.60" stroke="#2a2a2a" stroke-width="1.20" fill="none"/>
<path d="M282.50 598.30 L282.50 665.50" stroke="#2a2a2a" stroke-width="1.20" fill="none"/>
<path d="M298.30 600.20 L298.30 651.80" stroke="#2a2a2a" stroke-width="1.20" fill="none"/>
<path d="M298.30 651.80 L282.50 665.50" stroke="#2a2a2a" stroke-width="1.20" fill="none"/>
<path d="M382 541.2 L398 526.3 L400.6 527.0 L384.2 541.6 Z" fill="#9a9a9a"/>
<path d="M382.00 541.20 L398.00 526.30" stroke="#2a2a2a" stroke-width="1.20" fill="none"/>
<path d="M384.20 541.60 L400.60 527.00" stroke="#2a2a2a" stroke-width="1.20" fill="none"/>
<circle cx="484.60" cy="546.80" r="0.60" fill="#333"/>
<circle cx="484.60" cy="582.60" r="0.60" fill="#333"/>
<path d="M398.00 527.00 L492.40 538.20" stroke="#2a2a2a" stroke-width="1.20" fill="none"/>
<path d="M384.00 541.60 L475.00 553.40" stroke="#2a2a2a" stroke-width="1.20" fill="none"/>
<path d="M385.00 544.00 L475.00 555.60" stroke="#2a2a2a" stroke-width="1.20" fill="none"/>
<path d="M475.00 553.40 L493.00 538.20" stroke="#2a2a2a" stroke-width="1.20" fill="none"/>
<path d="M475.00 553.40 L475.00 587.80" stroke="#2a2a2a" stroke-width="1.20" fill="none"/>
<path d="M477.00 554.00 L477.00 588.00" stroke="#2a2a2a" stroke-width="1.20" fill="none"/>
<path d="M493.00 538.20 L493.00 576.00" stroke="#2a2a2a" stroke-width="1.20" fill="none"/>
<path d="M477.00 588.00 L493.00 576.00" stroke="#2a2a2a" stroke-width="1.20" fill="none"/>
<path d="M384.00 575.00 L475.00 585.80" stroke="#2a2a2a" stroke-width="1.20" fill="none"/>
<path d="M384.00 577.40 L475.00 588.20" stroke="#2a2a2a" stroke-width="1.20" fill="none"/>
<path d="M385.00 575.00 L402.00 560.00" stroke="#2a2a2a" stroke-width="1.20" fill="none"/>
<path d="M402.00 560.00 L475.00 569.00" stroke="#2a2a2a" stroke-width="1.20" fill="none"/>
<path d="M402.00 546.20 L402.00 560.00" stroke="#2a2a2a" stroke-width="1.20" fill="none"/>
<path d="M400.20 579.00 L400.20 598.00" stroke="#2a2a2a" stroke-width="1.20" fill="none"/>
<path d="M400.20 598.00 L384.00 609.60" stroke="#2a2a2a" stroke-width="1.20" fill="none"/>
<circle cx="386.00" cy="592.00" r="0.60" fill="#333"/>
<circle cx="386.00" cy="598.00" r="0.60" fill="#333"/>
<path d="M249.00 662.00 L243.80 666.30 L380.00 682.60 L400.00 665.00" stroke="#2a2a2a" stroke-width="1.20" fill="none"/>
<path d="M243.80 666.30 L245.00 670.00 L378.80 685.80 L400.00 667.50" stroke="#2a2a2a" stroke-width="1.20" fill="none"/>
<path d="M298.30 652.00 L400.00 665.00" stroke="#2a2a2a" stroke-width="1.20" fill="none"/>
<path d="M245.00 670.00 L245.00 736.50" stroke="#2a2a2a" stroke-width="1.20" fill="none"/>
<path d="M245.00 736.50 L378.80 751.60" stroke="#2a2a2a" stroke-width="1.20" fill="none"/>
<path d="M378.80 685.80 L378.80 751.60" stroke="#2a2a2a" stroke-width="1.20" fill="none"/>
<path d="M400.00 667.50 L400.00 735.00" stroke="#2a2a2a" stroke-width="1.20" fill="none"/>
<path d="M378.80 751.60 L400.00 735.00" stroke="#2a2a2a" stroke-width="1.20" fill="none"/>
<path d="M245.00 697.00 L288.80 701.30" stroke="#2a2a2a" stroke-width="1.20" fill="none"/>
<path d="M288.50 675.30 L288.50 741.30" stroke="#2a2a2a" stroke-width="1.20" fill="none"/>
<path d="M290.20 675.50 L290.20 741.50" stroke="#666" stroke-width="1.20" fill="none"/>
<path d="M333.00 680.50 L333.00 746.30" stroke="#2a2a2a" stroke-width="1.20" fill="none"/>
<path d="M334.70 680.70 L334.70 746.50" stroke="#666" stroke-width="1.20" fill="none"/>
<path d="M250.00 670.80 L280.00 674.20" stroke="#222" stroke-width="2.20" fill="none"/>
<path d="M295.00 676.00 L326.00 679.60" stroke="#222" stroke-width="2.20" fill="none"/>
<path d="M340.00 681.30 L368.00 684.60" stroke="#222" stroke-width="2.20" fill="none"/>
<path d="M250.00 697.60 L280.00 701.00" stroke="#222" stroke-width="2.20" fill="none"/>
<circle cx="381.00" cy="692.50" r="0.70" fill="#333"/>
<circle cx="381.00" cy="697.50" r="0.70" fill="#333"/>
<circle cx="381.00" cy="733.80" r="0.70" fill="#333"/>
<circle cx="381.00" cy="740.00" r="0.70" fill="#333"/>
<path d="M180.00 490.65 L313.85 507.96" stroke="#585494" stroke-width="1.40" fill="none"/>
<path d="M353.15 513.04 L487.00 530.35" stroke="#585494" stroke-width="1.40" fill="none"/>
<path d="M175.00 490.00 L181.57 488.33 L180.93 493.29 Z" fill="#16168c"/>
<path d="M492.00 531.00 L485.43 532.67 L486.07 527.71 Z" fill="#16168c"/>
<text x="318.15" y="513.30" font-size="19.00" fill="#111">2</text>
<path d="M335.81 513.30 L335.81 499.70 L334.76 499.70 L334.27 500.61 L333.47 501.42 L332.33 502.32 L330.77 503.23 L330.77 504.81 L331.95 504.29 L333.05 503.65 L334.13 502.89 L334.13 513.30 Z" fill="#111"/>
<text x="339.28" y="513.30" font-size="19.00" fill="#111">5</text>
<path d="M151.69 530.36 L166.31 516.74" stroke="#585494" stroke-width="1.40" fill="none"/>
<path d="M148.00 533.80 L150.90 527.68 L154.31 531.33 Z" fill="#16168c"/>
<path d="M170.00 513.30 L167.10 519.42 L163.69 515.77 Z" fill="#16168c"/>
<text x="149.80" y="522.90" font-size="19.00" fill="#111" text-anchor="middle" font-weight="normal">37</text>
<path d="M151.30 541.04 L151.30 660.26" stroke="#585494" stroke-width="1.40" fill="none"/>
<path d="M151.30 536.00 L153.80 542.30 L148.80 542.30 Z" fill="#16168c"/>
<path d="M151.30 665.30 L148.80 659.00 L153.80 659.00 Z" fill="#16168c"/>
<text x="139.50" y="606.60" font-size="19.00" fill="#fff" stroke="#fff" stroke-width="3.0" stroke-linejoin="round" text-anchor="middle" font-weight="normal">90</text>
<text x="139.50" y="606.60" font-size="19.00" fill="#111" text-anchor="middle" font-weight="normal">90</text>
<path d="M163.10 676.23 L179.38 678.27" stroke="#585494" stroke-width="1.40" fill="none"/>
<path d="M211.71 682.34 L238.20 685.67" stroke="#585494" stroke-width="1.40" fill="none"/>
<path d="M158.10 675.60 L164.66 673.91 L164.04 678.87 Z" fill="#16168c"/>
<path d="M243.20 686.30 L236.64 687.99 L237.26 683.03 Z" fill="#16168c"/>
<text x="196.00" y="685.40" font-size="19.00" fill="#111" text-anchor="middle" font-weight="normal">63</text>
<path d="M331.00 610.04 L331.00 620.84" stroke="#585494" stroke-width="1.40" fill="none"/>
<path d="M331.00 638.60 L331.00 647.96" stroke="#585494" stroke-width="1.40" fill="none"/>
<path d="M331.00 605.00 L333.50 611.30 L328.50 611.30 Z" fill="#16168c"/>
<path d="M331.00 653.00 L328.50 646.70 L333.50 646.70 Z" fill="#16168c"/>
<text x="330.20" y="635.30" font-size="19.00" fill="#111" text-anchor="middle" font-weight="normal">45</text>
<path d="M389.00 584.65 L414.36 587.96" stroke="#585494" stroke-width="1.40" fill="none"/>
<path d="M441.96 591.56 L471.00 595.35" stroke="#585494" stroke-width="1.40" fill="none"/>
<path d="M384.00 584.00 L390.57 582.34 L389.92 587.29 Z" fill="#16168c"/>
<path d="M476.00 596.00 L469.43 597.66 L470.08 592.71 Z" fill="#16168c"/>
<text x="430.20" y="600.00" font-size="19.00" fill="#111" text-anchor="middle" font-weight="normal">62</text>
<path d="M499.40 544.04 L499.40 633.58" stroke="#585494" stroke-width="1.40" fill="none"/>
<path d="M499.40 651.76 L499.40 776.46" stroke="#585494" stroke-width="1.40" fill="none"/>
<path d="M499.40 539.00 L501.90 545.30 L496.90 545.30 Z" fill="#16168c"/>
<path d="M499.40 781.50 L496.90 775.20 L501.90 775.20 Z" fill="#16168c"/>
<path d="M486.64 649.50 L486.64 635.90 L485.60 635.90 L485.10 636.81 L484.30 637.62 L483.16 638.52 L481.61 639.43 L481.61 641.01 L482.78 640.49 L483.89 639.85 L484.97 639.09 L484.97 649.50 Z" fill="#111"/>
<text x="490.12" y="649.50" font-size="19.00" fill="#111">3</text>
<text x="500.68" y="649.50" font-size="19.00" fill="#111">8</text>
<path d="M404.30 670.04 L404.30 728.76" stroke="#585494" stroke-width="1.40" fill="none"/>
<path d="M404.30 665.00 L406.80 671.30 L401.80 671.30 Z" fill="#16168c"/>
<path d="M404.30 733.80 L401.80 727.50 L406.80 727.50 Z" fill="#16168c"/>
<text x="417.50" y="704.10" font-size="19.00" fill="#111" text-anchor="middle" font-weight="normal">45</text>
<path d="M387.59 752.98 L400.01 742.12" stroke="#585494" stroke-width="1.40" fill="none"/>
<path d="M383.80 756.30 L386.89 750.27 L390.19 754.03 Z" fill="#16168c"/>
<path d="M403.80 738.80 L400.71 744.83 L397.41 741.07 Z" fill="#16168c"/>
<text x="407.50" y="760.40" font-size="19.00" fill="#111" text-anchor="middle" font-weight="normal">38</text>
<path d="M247.49 740.70 L293.34 747.14" stroke="#585494" stroke-width="1.40" fill="none"/>
<path d="M320.10 750.90 L371.31 758.10" stroke="#585494" stroke-width="1.40" fill="none"/>
<path d="M242.50 740.00 L249.09 738.40 L248.39 743.35 Z" fill="#16168c"/>
<path d="M376.30 758.80 L369.71 760.40 L370.41 755.45 Z" fill="#16168c"/>
<text x="306.00" y="758.30" font-size="19.00" fill="#111" text-anchor="middle" font-weight="normal">90</text>
<rect x="515.6" y="678.6" width="152.0" height="39.8" fill="none" stroke="#c81e2c" stroke-width="2.4" stroke-dasharray="8.2 3.0"/>
<circle cx="596.3" cy="660.7" r="24.4" fill="#e11f26"/>
<path d="M591.6 643.2 Q591.6 640.4 596.3 640.4 Q601.0 640.4 601.0 643.2 L598.6 671.0 L594.0 671.0 Z" fill="#fff"/>
<circle cx="596.3" cy="678.9" r="3.5" fill="#fff"/>
<text x="522.20" y="702.00" font-size="12.00" fill="#1a1a1a" text-anchor="start" font-weight="normal" textLength="140.00" lengthAdjust="spacingAndGlyphs">ESPESSURA DO TAMPO:</text>
<text x="575.40" y="714.60" font-size="11.40" fill="#111" text-anchor="start" font-weight="bold" textLength="32.60" lengthAdjust="spacingAndGlyphs">1,5cm</text>
<rect x="528.6" y="726.2" width="20.4" height="14.8" fill="#ec1c24"/>
<rect x="528.6" y="748.2" width="20.4" height="14.8" fill="#1414e2"/>
<text x="553.20" y="738.30" font-size="13.20" fill="#1a1a1a" text-anchor="start" font-weight="normal" textLength="109.80" lengthAdjust="spacingAndGlyphs">- Medidas Internas</text>
<text x="553.20" y="761.30" font-size="13.20" fill="#1a1a1a" text-anchor="start" font-weight="normal" textLength="113.80" lengthAdjust="spacingAndGlyphs">- Medidas Externas</text>
<text x="522.00" y="784.40" font-size="13.40" fill="#1a1a1a" text-anchor="start" font-weight="normal" textLength="148.00" lengthAdjust="spacingAndGlyphs">Medidas em centímetros.</text>
</svg>
</body></html>
